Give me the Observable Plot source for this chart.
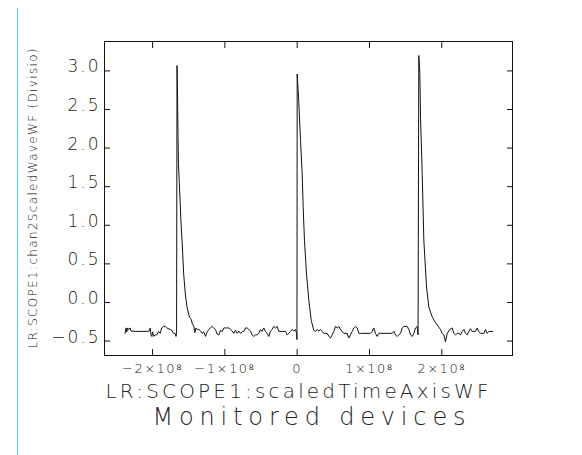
<!DOCTYPE html>
<html>
<head>
<meta charset="utf-8">
<script src="https://cdn.jsdelivr.net/npm/d3@7"></script>
<script src="https://cdn.jsdelivr.net/npm/@observablehq/plot@0.6"></script>
<style>
  html, body { margin: 0; padding: 0; background: #fff; }
  #wrap { position: relative; width: 582px; height: 455px; }
  #cyan { position: absolute; left: 17px; top: 8px; width: 1px; height: 447px; background: #4fdde6; }
  g[aria-label="y-axis tick label"] text { letter-spacing: 2px; }
  g[aria-label="x-axis tick label"] text { letter-spacing: 1.5px; }
</style>
</head>
<body>
<div id="wrap"><div id="cyan"></div></div>
<script>
// time axis samples (units of 1e8) and waveform values (divisions)
const timeE8 = [
  -2.379,-2.368,-2.356,-2.345,-2.333,-2.310,-2.298,-2.241,-2.080,-2.045,-2.033,-2.022,-2.011,-1.999,-1.988,-1.964,-1.941,-1.918,-1.895,-1.873,-1.850,-1.827,-1.803,-1.757,-1.734,-1.711,-1.688,-1.676,-1.668,
  -1.662,-1.655,-1.648,-1.642,-1.630,-1.608,-1.588,-1.570,-1.547,-1.524,-1.490,-1.465,-1.452,
  -1.430,-1.415,-1.400,-1.383,-1.360,-1.337,-1.314,-1.291,-1.268,-1.245,-1.222,-1.199,-1.176,-1.153,-1.130,-1.107,-1.084,-1.061,-1.038,-1.015,-0.992,-0.969,-0.946,-0.922,-0.899,-0.876,-0.853,-0.830,-0.807,
  -0.784,-0.761,-0.738,-0.715,-0.692,-0.669,-0.646,-0.623,-0.600,-0.577,-0.554,-0.531,-0.508,-0.485,-0.462,-0.439,-0.416,-0.393,-0.370,-0.347,-0.324,-0.301,-0.278,-0.254,-0.208,-0.162,-0.138,-0.115,-0.092,-0.069,-0.046,-0.023,-0.008,-0.003,
  0.000,0.020,0.046,0.069,0.083,0.101,0.129,0.161,0.194,0.230,
  0.253,0.277,0.300,0.323,0.346,0.368,0.415,0.438,0.461,0.484,0.507,0.530,0.553,0.576,0.599,0.622,0.645,0.691,0.714,0.737,0.761,0.784,0.807,0.830,0.853,
  0.876,1.014,1.037,1.060,1.083,1.106,1.129,1.152,1.314,1.337,1.360,1.383,1.406,1.429,1.452,1.475,1.521,1.544,1.568,1.591,1.614,1.636,1.659,1.672,
  1.682,1.696,1.706,1.729,1.752,1.789,1.821,1.868,1.913,1.959,
  1.982,2.005,2.028,2.051,2.075,2.098,2.121,2.144,2.167,2.190,2.213,2.236,2.259,2.282,2.305,2.328,2.351,2.374,2.397,2.420,2.466,2.489,2.512,2.535,2.581,2.604,2.627,2.650,2.705
];
const waveValues = [
  -0.40,-0.33,-0.38,-0.33,-0.35,-0.33,-0.37,-0.375,-0.375,-0.37,-0.33,-0.42,-0.44,-0.38,-0.44,-0.42,-0.42,-0.375,-0.40,-0.33,-0.31,-0.31,-0.33,-0.35,-0.36,-0.40,-0.40,-0.44,-0.40,
  3.07,2.70,2.14,1.80,1.54,1.06,0.72,0.37,0.11,-0.06,-0.19,-0.22,-0.27,
  -0.31,-0.39,-0.33,-0.35,-0.35,-0.37,-0.40,-0.38,-0.44,-0.38,-0.35,-0.33,-0.31,-0.33,-0.35,-0.41,-0.42,-0.36,-0.38,-0.33,-0.33,-0.33,-0.33,-0.35,-0.37,-0.40,-0.36,-0.40,-0.37,
  -0.40,-0.38,-0.375,-0.33,-0.33,-0.35,-0.37,-0.42,-0.44,-0.42,-0.42,-0.40,-0.35,-0.375,-0.33,-0.375,-0.40,-0.44,-0.375,-0.35,-0.31,-0.33,-0.31,-0.375,-0.375,-0.375,-0.42,-0.40,-0.375,-0.35,-0.37,-0.35,-0.40,-0.48,
  2.96,2.64,2.10,1.67,1.23,0.80,0.37,0.03,-0.23,-0.36,
  -0.375,-0.35,-0.37,-0.35,-0.375,-0.40,-0.40,-0.44,-0.46,-0.42,-0.375,-0.31,-0.33,-0.31,-0.35,-0.375,-0.40,-0.40,-0.46,-0.42,-0.375,-0.33,-0.31,-0.33,-0.40,
  -0.40,-0.40,-0.375,-0.33,-0.40,-0.44,-0.40,-0.40,-0.40,-0.375,-0.42,-0.44,-0.42,-0.40,-0.33,-0.31,-0.31,-0.35,-0.42,-0.44,-0.40,-0.33,-0.31,-0.42,
  3.20,2.98,2.40,1.67,0.80,0.20,-0.06,-0.19,-0.26,-0.32,
  -0.35,-0.40,-0.42,-0.51,-0.40,-0.37,-0.34,-0.33,-0.40,-0.42,-0.40,-0.40,-0.42,-0.375,-0.35,-0.40,-0.42,-0.375,-0.34,-0.375,-0.375,-0.33,-0.375,-0.40,-0.40,-0.35,-0.40,-0.375,-0.375
];
const xTicks = [-2e8, -1e8, 0, 1e8, 2e8];
const xTickLabels = ["−2×10⁸", "−1×10⁸", "0", "1×10⁸", "2×10⁸"];
const yTicks = [3.0, 2.5, 2.0, 1.5, 1.0, 0.5, 0.0, -0.5];
const yTickLabels = ["3.0", "2.5", "2.0", "1.5", "1.0", "0.5", "0.0", "−0.5"];
const xLabel = "LR:SCOPE1:scaledTimeAxisWF";
const yLabel = "LR:SCOPE1:chan2ScaledWaveWF (Divisio)";
const title = "Monitored devices";

const wave = timeE8.map((t, i) => ({time: t * 1e8, value: waveValues[i]}));

const chart = Plot.plot({
  width: 582,
  height: 455,
  marginLeft: 104,
  marginRight: 70,
  marginTop: 41,
  marginBottom: 100,
  x: {domain: [-2.665e8, 2.978e8]},
  y: {domain: [-0.687, 3.381]},
  style: {fontFamily: "'DejaVu Sans', sans-serif", fontWeight: 200, background: "transparent", color: "#111", overflow: "visible"},
  marks: [
    Plot.line(wave, {x: "time", y: "value", stroke: "#111", strokeWidth: 1}),
    Plot.frame({stroke: "#111"}),
    Plot.axisX(xTicks, {anchor: "bottom", tickSize: 6, dy: -6, fill: "none", label: null}),
    Plot.axisX(xTicks, {anchor: "top", tickSize: 6, dy: 6, fill: "none", label: null}),
    Plot.axisY(yTicks, {anchor: "left", tickSize: 6, dx: 6, fill: "none", label: null}),
    Plot.axisY(yTicks, {anchor: "right", tickSize: 6, dx: -6, fill: "none", label: null}),
    Plot.axisX(xTicks, {anchor: "bottom", tickSize: 0, tickPadding: 8, fontSize: 13, fill: "#222",
      tickFormat: d => xTickLabels[xTicks.indexOf(d)], label: null}),
    Plot.axisY(yTicks, {anchor: "left", tickSize: 0, tickPadding: 4, dy: -4, fontSize: 17, fill: "#222",
      tickFormat: d => yTickLabels[yTicks.indexOf(d)], label: null}),
    Plot.text([xLabel], {frameAnchor: "bottom", lineAnchor: "middle", textAnchor: "middle", dx: -11.5, dy: 35.6, fontSize: 20, fill: "#222"}),
    Plot.text([title], {frameAnchor: "bottom", lineAnchor: "middle", textAnchor: "middle", dx: 0.5, dy: 62.3, fontSize: 24, fill: "#222"}),
    Plot.text([yLabel], {frameAnchor: "left", lineAnchor: "middle", textAnchor: "middle", dx: -71, rotate: -90, fontSize: 12, fill: "#222"})
  ]
});

const svg = d3.select(chart);
svg.selectAll("text").each(function () {
  const s = this.textContent;
  if (s === xLabel) d3.select(this).attr("textLength", 383).attr("lengthAdjust", "spacing");
  if (s === title) d3.select(this).attr("textLength", 313).attr("lengthAdjust", "spacing");
  if (s === yLabel) d3.select(this).attr("textLength", 300).attr("lengthAdjust", "spacing");
});
chart.style.position = "absolute";
chart.style.left = "0px";
chart.style.top = "0px";
document.getElementById("wrap").appendChild(chart);
</script>
</body>
</html>
